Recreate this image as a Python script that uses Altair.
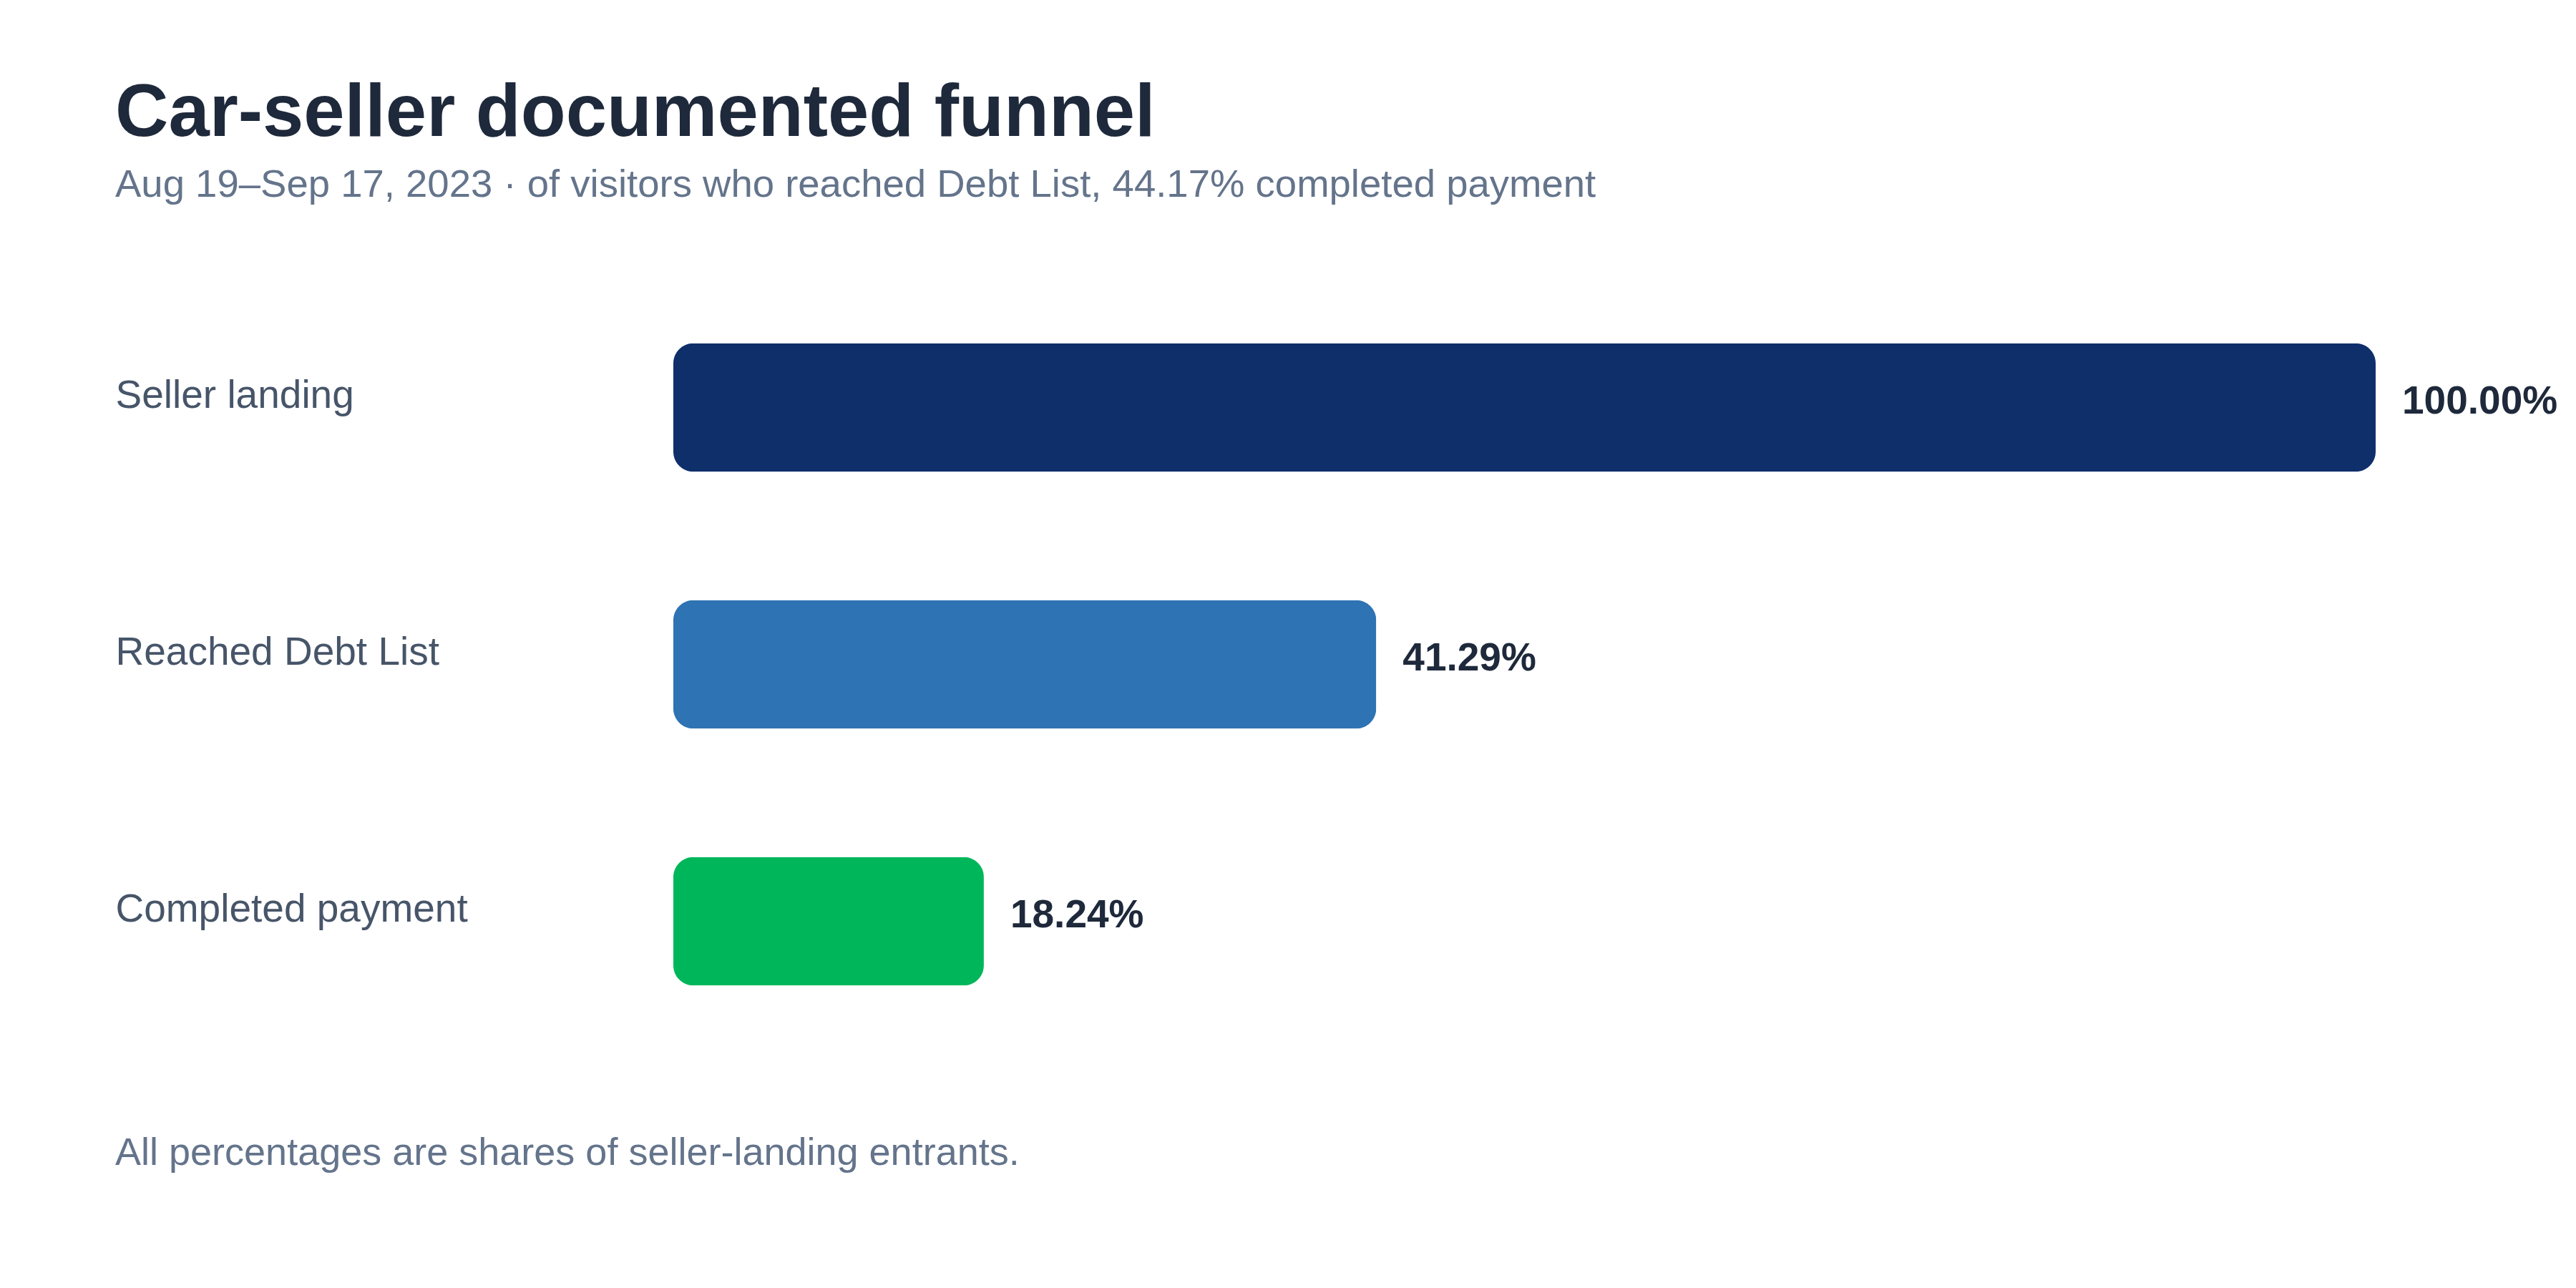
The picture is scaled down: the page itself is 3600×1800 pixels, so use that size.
import altair as alt
import pandas as pd

# ---- data ----
stages = ["Seller landing", "Reached Debt List", "Completed payment"]
shares = [100.00, 41.29, 18.24]
bar_colors = ["#0f2f6b", "#2e73b3", "#00b65a"]

title_text = "Car-seller documented funnel"
subtitle_text = "Aug 19\u2013Sep 17, 2023 \u00b7 of visitors who reached Debt List, 44.17% completed payment"
footer_text = ["All percentages are shares of seller-landing entrants."]

df = pd.DataFrame({"stage": stages, "share": shares})

FONT = "Liberation Sans, Arial, Helvetica, sans-serif"
W = 2379
H = 1077

y_enc = alt.Y(
    "stage:N",
    sort=stages,
    scale=alt.Scale(paddingInner=0.5, paddingOuter=0.25),
    axis=alt.Axis(
        title=None,
        domain=False,
        ticks=False,
        tickSize=0,
        grid=False,
        labelAlign="left",
        labelBaseline="alphabetic",
        labelPadding=780,
        labelLimit=1000,
        labelFontSize=55,
        labelFont=FONT,
        labelColor="#475569",
    ),
)

x_enc = alt.X("share:Q", scale=alt.Scale(domain=[0, 100]), axis=None)

bars = alt.Chart(df).mark_bar(cornerRadius=28).encode(
    x=x_enc,
    y=y_enc,
    color=alt.Color("stage:N", scale=alt.Scale(domain=stages, range=bar_colors), legend=None),
)

labels = alt.Chart(df).transform_calculate(
    label="format(datum.share, '.2f') + '%'"
).mark_text(
    align="left", baseline="middle", dx=37, dy=-9,
    fontSize=55, fontWeight="bold", font=FONT, color="#1e293b",
).encode(x=x_enc, y=y_enc, text="label:N")

footer = alt.Chart(pd.DataFrame({"t": footer_text})).mark_text(
    align="left", baseline="alphabetic", fontSize=54, font=FONT, color="#64748b",
).encode(x=alt.value(-780), y=alt.value(1238), text="t:N")

chart = alt.layer(bars, labels, footer).properties(
    width=W,
    height=H,
    background="white",
    autosize=alt.AutoSizeParams(type="none"),
    padding={"left": 933, "top": 382, "right": 260, "bottom": 300},
    title=alt.TitleParams(
        text=title_text,
        subtitle=subtitle_text,
        anchor="start",
        frame="group",
        dx=-780,
        offset=104,
        font=FONT,
        fontSize=103,
        fontWeight="bold",
        color="#1e293b",
        subtitleFont=FONT,
        subtitleFontSize=54.5,
        subtitleColor="#64748b",
        subtitlePadding=20,
    ),
).configure_view(strokeWidth=0, stroke="transparent")

chart.save("out.html", embed_options={"renderer": "svg", "actions": False})
